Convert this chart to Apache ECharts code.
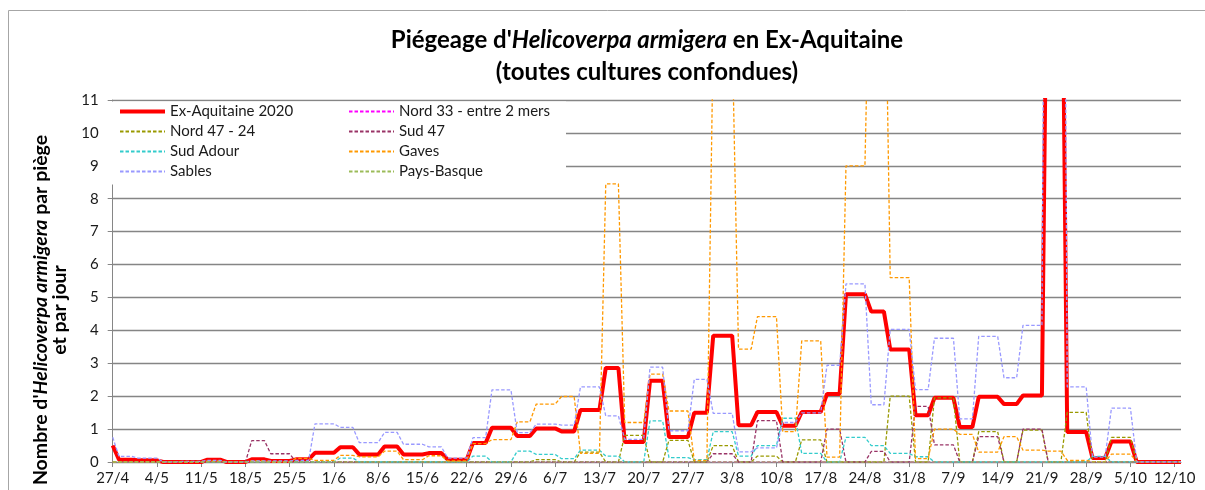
<!DOCTYPE html>
<html>
<head>
<meta charset="utf-8">
<script src="https://cdn.jsdelivr.net/npm/echarts@6/dist/echarts.min.js"></script>
<style>
html,body{margin:0;padding:0;background:#fff;}
#chart{width:1205px;height:490px;}
</style>
</head>
<body>
<div id="chart"></div>
<script>
const dates = [
'27/4','28/4','29/4','30/4',
'1/5','2/5','3/5','4/5','5/5','6/5','7/5','8/5','9/5','10/5','11/5','12/5','13/5','14/5','15/5','16/5','17/5','18/5','19/5','20/5','21/5','22/5','23/5','24/5','25/5','26/5','27/5','28/5','29/5','30/5','31/5',
'1/6','2/6','3/6','4/6','5/6','6/6','7/6','8/6','9/6','10/6','11/6','12/6','13/6','14/6','15/6','16/6','17/6','18/6','19/6','20/6','21/6','22/6','23/6','24/6','25/6','26/6','27/6','28/6','29/6','30/6',
'1/7','2/7','3/7','4/7','5/7','6/7','7/7','8/7','9/7','10/7','11/7','12/7','13/7','14/7','15/7','16/7','17/7','18/7','19/7','20/7','21/7','22/7','23/7','24/7','25/7','26/7','27/7','28/7','29/7','30/7','31/7',
'1/8','2/8','3/8','4/8','5/8','6/8','7/8','8/8','9/8','10/8','11/8','12/8','13/8','14/8','15/8','16/8','17/8','18/8','19/8','20/8','21/8','22/8','23/8','24/8','25/8','26/8','27/8','28/8','29/8','30/8','31/8',
'1/9','2/9','3/9','4/9','5/9','6/9','7/9','8/9','9/9','10/9','11/9','12/9','13/9','14/9','15/9','16/9','17/9','18/9','19/9','20/9','21/9','22/9','23/9','24/9','25/9','26/9','27/9','28/9','29/9','30/9',
'1/10','2/10','3/10','4/10','5/10','6/10','7/10','8/10','9/10','10/10','11/10','12/10','13/10'
];

const seriesNames = ['Ex-Aquitaine 2020','Nord 33 - entre 2 mers','Nord 47 - 24','Sud 47','Sud Adour','Gaves','Sables','Pays-Basque'];

const exAquitaine2020 = [
0.5,
0.07,0.07,0.07,0.05,0.05,0.05,0.05,
0,0,0,0,0,0,0,
0.07,0.07,0.07,0,0,0,0,
0.08,0.08,0.08,0.03,0.03,0.03,0.03,
0.08,0.08,0.08,0.28,0.28,0.28,0.28,
0.45,0.45,0.45,0.23,0.23,0.23,0.23,
0.47,0.47,0.47,0.23,0.23,0.23,0.23,
0.27,0.27,0.27,0.07,0.07,0.07,0.07,
0.58,0.58,0.58,1.04,1.04,1.04,1.04,
0.79,0.79,0.79,1.02,1.02,1.02,1.02,
0.93,0.93,0.93,1.58,1.58,1.58,1.58,
2.86,2.86,2.86,0.61,0.61,0.61,0.61,
2.47,2.47,2.47,0.76,0.76,0.76,0.76,
1.5,1.5,1.5,3.84,3.84,3.84,3.84,
1.12,1.12,1.12,1.52,1.52,1.52,1.52,
1.1,1.1,1.1,1.52,1.52,1.52,1.52,
2.07,2.07,2.07,5.1,5.1,5.1,5.1,
4.57,4.57,4.57,3.42,3.42,3.42,3.42,
1.42,1.42,1.42,1.95,1.95,1.95,1.95,
1.06,1.06,1.06,1.98,1.98,1.98,1.98,
1.76,1.76,1.76,2.02,2.02,2.02,2.02,
20,20,20,0.91,0.91,0.91,0.91,
0.12,0.12,0.12,0.62,0.62,0.62,0.62,
0,0,0,0,0,0,0,
0
];

const nord33 = [
0,
0,0,0,0,0,0,0,
0,0,0,0,0,0,0,
0,0,0,0,0,0,0,
0,0,0,0,0,0,0,
0,0,0,0,0,0,0,
0,0,0,0,0,0,0,
0,0,0,0,0,0,0,
0,0,0,0,0,0,0,
0,0,0,0,0,0,0,
0,0,0,0,0,0,0,
0,0,0,0,0,0,0,
0,0,0,0,0,0,0,
0,0,0,0,0,0,0,
0,0,0,0,0,0,0,
0,0,0,0,0,0,0,
0,0,0,0,0,0,0,
0,0,0,0,0,0,0,
0,0,0,0,0,0,0,
0,0,0,0,0,0,0,
0,0,0,0,0,0,0,
0,0,0,0,0,0,0,
0,0,0,0,0,0,0,
0,0,0,0,0,0,0,
0,0,0,0,0,0,0,
0
];

const nord4724 = [
0,
0,0,0,0,0,0,0,
0,0,0,0,0,0,0,
0,0,0,0,0,0,0,
0,0,0,0,0,0,0,
0,0,0,0,0,0,0,
0,0,0,0,0,0,0,
0,0,0,0,0,0,0,
0,0,0,0,0,0,0,
0,0,0,0,0,0,0,
0,0,0,0.07,0.07,0.07,0.07,
0,0,0,0.3,0.3,0.3,0.3,
0,0,0,0.81,0.81,0.81,0.81,
0,0,0,0.66,0.66,0.66,0.66,
0,0,0,0.5,0.5,0.5,0.5,
0,0,0,0.18,0.18,0.18,0.18,
0,0,0,0.67,0.67,0.67,0.67,
0,0,0,0,0,0,0,
0,0,0,2,2,2,2,
0,0,0,1.95,1.95,1.95,1.95,
0,0,0,0.92,0.92,0.92,0.92,
0,0,0,0.97,0.97,0.97,0.97,
0,0,0,1.51,1.51,1.51,1.51,
0,0,0,0.75,0.75,0.75,0.75,
0,0,0,0,0,0,0,
0
];

const sud47 = [
0,
0,0,0,0,0,0,0,
0,0,0,0,0,0,0,
0,0,0,0,0,0,0,
0.65,0.65,0.65,0.25,0.25,0.25,0.25,
0,0,0,0,0,0,0,
0,0,0,0,0,0,0,
0,0,0,0,0,0,0,
0,0,0,0,0,0,0,
0,0,0,0,0,0,0,
0,0,0,0,0,0,0,
0,0,0,0,0,0,0,
0,0,0,0,0,0,0,
0,0,0,0,0,0,0,
0,0,0,0.25,0.25,0.25,0.25,
0,0,0,1.26,1.26,1.26,1.26,
0,0,0,0,0,0,0,
1,1,1,0,0,0,0,
0.32,0.32,0.32,0,0,0,0,
1.69,1.69,1.69,0.52,0.52,0.52,0.52,
0,0,0,0.77,0.77,0.77,0.77,
0,0,0,1,1,1,1,
0,0,0,0,0,0,0,
0,0,0,0,0,0,0,
0,0,0,0,0,0,0,
0
];

const sudAdour = [
0,
0,0,0,0,0,0,0,
0,0,0,0,0,0,0,
0,0,0,0,0,0,0,
0,0,0,0,0,0,0,
0,0,0,0,0,0,0,
0.12,0.12,0.12,0,0,0,0,
0,0,0,0,0,0,0,
0,0,0,0,0,0,0,
0.18,0.18,0.18,0,0,0,0,
0.33,0.33,0.33,0.23,0.23,0.23,0.23,
0.1,0.1,0.1,0.36,0.36,0.36,0.36,
0.18,0.18,0.18,0,0,0,0,
1.25,1.25,1.25,0.13,0.13,0.13,0.13,
0.07,0.07,0.07,0.92,0.92,0.92,0.92,
0.18,0.18,0.18,0.5,0.5,0.5,0.5,
1.33,1.33,1.33,0.26,0.26,0.26,0.26,
0,0,0,0.75,0.75,0.75,0.75,
0.5,0.5,0.5,0.26,0.26,0.26,0.26,
0.16,0.16,0.16,0,0,0,0,
0,0,0,0,0,0,0,
0,0,0,0,0,0,0,
0,0,0,0,0,0,0,
0.17,0.17,0.17,0,0,0,0,
0,0,0,0,0,0,0,
0
];

const gaves = [
0,
0,0,0,0,0,0,0,
0,0,0,0,0,0,0,
0.03,0.03,0.03,0,0,0,0,
0.04,0.04,0.04,0,0,0,0,
0.11,0.11,0.11,0.05,0.05,0.05,0.05,
0.2,0.2,0.2,0.16,0.16,0.16,0.16,
0.33,0.33,0.33,0.07,0.07,0.07,0.07,
0.19,0.19,0.19,0.03,0.03,0.03,0.03,
0.56,0.56,0.56,0.68,0.68,0.68,0.68,
1.22,1.22,1.22,1.76,1.76,1.76,1.76,
1.99,1.99,1.99,0.26,0.26,0.26,0.26,
8.45,8.45,8.45,1.2,1.2,1.2,1.2,
2.67,2.67,2.67,1.55,1.55,1.55,1.55,
0.05,0.05,0.05,13,13,13,13,
3.43,3.43,3.43,4.42,4.42,4.42,4.42,
0.92,0.92,0.92,3.68,3.68,3.68,3.68,
0.15,0.15,0.15,9,9,9,9,
18,18,18,5.6,5.6,5.6,5.6,
0.1,0.1,0.1,1,1,1,1,
0.84,0.84,0.84,0.3,0.3,0.3,0.3,
0.77,0.77,0.77,0.36,0.36,0.36,0.36,
0.33,0.33,0.33,0.05,0.05,0.05,0.05,
0.01,0.01,0.01,0.24,0.24,0.24,0.24,
0,0,0,0,0,0,0,
0
];

const sables = [
0.75,
0.17,0.17,0.17,0.12,0.12,0.12,0.12,
0,0,0,0.02,0.02,0.02,0.02,
0.05,0.05,0.05,0,0,0,0,
0.03,0.03,0.03,0.03,0.03,0.03,0.03,
0.05,0.05,0.05,1.16,1.16,1.16,1.16,
1.05,1.05,1.05,0.59,0.59,0.59,0.59,
0.9,0.9,0.9,0.54,0.54,0.54,0.54,
0.46,0.46,0.46,0.12,0.12,0.12,0.12,
0.74,0.74,0.74,2.19,2.19,2.19,2.19,
0.89,0.89,0.89,1.15,1.15,1.15,1.15,
1.12,1.12,1.12,2.28,2.28,2.28,2.28,
1.4,1.4,1.4,0.69,0.69,0.69,0.69,
2.88,2.88,2.88,0.95,0.95,0.95,0.95,
2.51,2.51,2.51,1.48,1.48,1.48,1.48,
0.31,0.31,0.31,0.43,0.43,0.43,0.43,
1.2,1.2,1.2,1.49,1.49,1.49,1.49,
2.94,2.94,2.94,5.41,5.41,5.41,5.41,
1.74,1.74,1.74,4.03,4.03,4.03,4.03,
2.2,2.2,2.2,3.76,3.76,3.76,3.76,
1.31,1.31,1.31,3.82,3.82,3.82,3.82,
2.56,2.56,2.56,4.15,4.15,4.15,4.15,
40,40,40,2.28,2.28,2.28,2.28,
0.15,0.15,0.15,1.64,1.64,1.64,1.64,
0,0,0,0,0,0,0,
0
];

const paysBasque = [
0,
0,0,0,0,0,0,0,
0,0,0,0,0,0,0,
0,0,0,0,0,0,0,
0,0,0,0,0,0,0,
0,0,0,0,0,0,0,
0,0,0,0,0,0,0,
0,0,0,0,0,0,0,
0,0,0,0,0,0,0,
0,0,0,0,0,0,0,
0,0,0,0,0,0,0,
0,0,0,0,0,0,0,
0,0,0,0,0,0,0,
0,0,0,0,0,0,0,
0,0,0,0,0,0,0,
0,0,0,0,0,0,0,
0,0,0,0,0,0,0,
0,0,0,0,0,0,0,
0,0,0,0,0,0,0,
0,0,0,0,0,0,0,
0,0,0,0,0,0,0,
0,0,0,0,0,0,0,
0,0,0,0,0,0,0,
0,0,0,0,0,0,0,
0
];

const seriesData = [exAquitaine2020, nord33, nord4724, sud47, sudAdour, gaves, sables, paysBasque];
const seriesColors = ['#FF0000','#FF00FF','#999900','#993366','#33CCCC','#FF9900','#9999FF','#9BBB59'];
const weeklyStep = 7;

const FONT = 'Lato';
const chart = echarts.init(document.getElementById('chart'), null, {renderer: 'canvas'});

const series = seriesNames.map((name, i) => ({
  name: name,
  type: 'line',
  data: seriesData[i],
  symbol: 'none',
  showSymbol: false,
  z: 2 + i * 0.01,
  lineStyle: i === 0
    ? {color: seriesColors[i], width: 4}
    : {color: seriesColors[i], width: 1.3, type: [3.5, 2]},
  itemStyle: {color: seriesColors[i]},
  emphasis: {disabled: true}
}));

const legendItem = (i) => i === 0
  ? {name: seriesNames[i], lineStyle: {width: 4, color: seriesColors[i]}}
  : {name: seriesNames[i]};

const legendCommon = {
  orient: 'vertical',
  top: 104,
  padding: 0,
  itemWidth: 45,
  itemHeight: 14,
  itemGap: 5,
  selectedMode: false,
  z: 6,
  itemStyle: {opacity: 0},
  textStyle: {fontFamily: FONT, fontSize: 15, color: '#1a1a1a'}
};

const weekly = (idx) => idx % weeklyStep === 0;

chart.setOption({
  animation: false,
  backgroundColor: '#fff',
  title: {
    text: "{b|Piégeage d'}{bi|Helicoverpa armigera}{b| en Ex-Aquitaine}\n{b|(toutes cultures confondues)}",
    left: 642,
    top: 19,
    textAlign: 'center',
    textStyle: {
      rich: {
        b: {fontFamily: FONT, fontSize: 24, fontWeight: 'bold', color: '#000', lineHeight: 32},
        bi: {fontFamily: FONT, fontSize: 24, fontWeight: 'bold', fontStyle: 'italic', color: '#000', lineHeight: 32}
      }
    }
  },
  legend: [
    Object.assign({}, legendCommon, {left: 118, data: [0, 2, 4, 6].map(legendItem)}),
    Object.assign({}, legendCommon, {left: 348, data: [1, 3, 5, 7].map(legendItem)})
  ],
  grid: {left: 112.7, right: 24, top: 100, bottom: 28, containLabel: false},
  xAxis: {
    type: 'category',
    data: dates,
    boundaryGap: false,
    axisLine: {lineStyle: {color: '#868686', width: 1}},
    axisTick: {interval: weekly, length: 5, lineStyle: {color: '#868686'}},
    axisLabel: {interval: weekly, margin: 9, fontFamily: FONT, fontSize: 15, color: '#1a1a1a'},
    splitLine: {show: false}
  },
  yAxis: {
    type: 'value',
    min: 0,
    max: 11,
    interval: 1,
    axisLine: {show: true, lineStyle: {color: '#868686', width: 1}},
    axisTick: {show: true, length: 5, lineStyle: {color: '#868686'}},
    axisLabel: {margin: 14, fontFamily: FONT, fontSize: 15, color: '#1a1a1a'},
    splitLine: {lineStyle: {color: '#858585', width: 1.4}}
  },
  graphic: [
    {type: 'rect', z: 0, silent: true,
     shape: {x: 8.5, y: 10.5, width: 1400, height: 700},
     style: {fill: 'none', stroke: '#a6a6a6', lineWidth: 1}},
    {type: 'rect', z: 5, silent: true,
     shape: {x: 104, y: 101.5, width: 462, height: 83},
     style: {fill: '#fff'}},
    {type: 'text', z: 6, silent: true,
     x: 50, y: 310, rotation: Math.PI / 2,
     style: {
       text: "{n|Nombre d'}{i|Helicoverpa armigera}{n| par piège}\n{n|et par jour}",
       align: 'center', verticalAlign: 'middle',
       rich: {
         n: {fontFamily: FONT, fontSize: 19.5, fontWeight: 'bold', fill: '#000', lineHeight: 19, align: 'center'},
         i: {fontFamily: FONT, fontSize: 19.5, fontWeight: 'bold', fontStyle: 'italic', fill: '#000', lineHeight: 19, align: 'center'}
       }
     }}
  ],
  series: series
});
</script>
</body>
</html>
